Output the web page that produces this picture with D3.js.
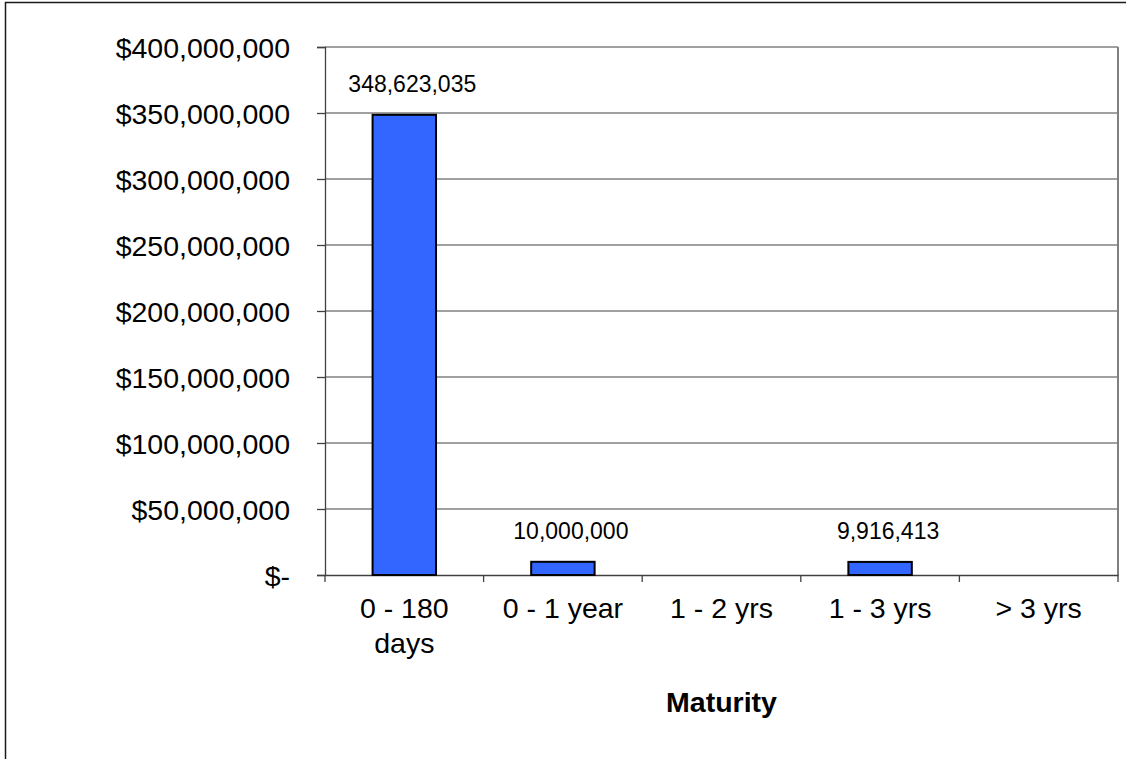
<!DOCTYPE html>
<html>
<head>
<meta charset="utf-8">
<script src="https://cdnjs.cloudflare.com/ajax/libs/d3/7.8.5/d3.min.js"></script>
<style>
  body { margin: 0; background: #fff; }
  svg { display: block; font-family: "Liberation Sans", Arial, sans-serif; }
</style>
</head>
<body>
<div id="chart"></div>
<script>
// data
var categories = ["0 - 180 days", "0 - 1 year", "1 - 2 yrs", "1 - 3 yrs", "> 3 yrs"];
var values = [348623035, 10000000, 0, 9916413, 0];
var yTicks = [0, 50000000, 100000000, 150000000, 200000000, 250000000, 300000000, 350000000, 400000000];
var xTitle = "Maturity";

var w = 1126, h = 759;
var padL = 325, padR = 1118, padT = 47, padB = 575;

var rows = categories.map(function(c, i){ return { cat: c, val: values[i] }; });

var svg = d3.select("#chart").append("svg")
    .attr("width", w)
    .attr("height", h);

// outer chart frame (runs off the right and bottom edge)
svg.append("rect")
    .attr("x", 5.5).attr("y", 2.5)
    .attr("width", 1300).attr("height", 1000)
    .attr("fill", "none")
    .attr("stroke", "#1a1a1a")
    .attr("stroke-width", 1.5);

var x = d3.scaleBand().domain(categories).range([padL, padR]).paddingInner(0).paddingOuter(0);
var y = d3.scaleLinear().domain([0, 400000000]).range([padB, padT]);

// gridlines
svg.append("g").selectAll("line").data(yTicks.slice(1))
    .enter().append("line")
    .attr("x1", padL).attr("x2", padR)
    .attr("y1", function(d){ return y(d); })
    .attr("y2", function(d){ return y(d); })
    .attr("stroke", "#808080")
    .attr("stroke-width", 1.3);

// right border of the plot area
svg.append("line")
    .attr("x1", padR).attr("x2", padR)
    .attr("y1", padT).attr("y2", padB)
    .attr("stroke", "#808080")
    .attr("stroke-width", 2);

var money = function(d){
    return d === 0 ? "$-" : "$" + d3.format(",")(d);
};

// y axis
var yAxis = svg.append("g")
    .attr("transform", "translate(" + padL + ",0)")
    .call(d3.axisLeft(y).tickValues(yTicks).tickFormat(money).tickSize(8).tickPadding(27));
yAxis.select(".domain").attr("stroke", "#404040").attr("stroke-width", 1.3);
yAxis.selectAll(".tick line").attr("stroke", "#404040").attr("stroke-width", 1.3);
yAxis.selectAll(".tick text")
    .attr("fill", "#000")
    .style("font-size", "28.5px")
    .style("font-family", "'Liberation Sans', Arial, sans-serif")
    .attr("dy", "0.36em");

// x axis
var xAxis = svg.append("g")
    .attr("transform", "translate(0," + padB + ")")
    .call(d3.axisBottom(x).tickSize(0).tickFormat(""));
xAxis.select(".domain").attr("stroke", "#404040").attr("stroke-width", 1.3);

// category boundary ticks
var bounds = categories.map(function(c){ return x(c); }).concat([padR]);
svg.append("g").selectAll("line").data(bounds)
    .enter().append("line")
    .attr("x1", function(d){ return d; })
    .attr("x2", function(d){ return d; })
    .attr("y1", padB).attr("y2", padB + 7)
    .attr("stroke", "#404040")
    .attr("stroke-width", 1.3);

// category labels, wrapped when wider than the band
var measure = svg.append("text").style("font-size", "28.5px").attr("visibility", "hidden");
function wrapLines(str, maxW){
    var words = str.split(" "), lines = [], cur = "";
    words.forEach(function(wd){
        var test = cur ? cur + " " + wd : wd;
        measure.text(test);
        if (measure.node().getComputedTextLength() > maxW && cur) {
            lines.push(cur);
            cur = wd;
        } else {
            cur = test;
        }
    });
    lines.push(cur);
    return lines;
}

categories.forEach(function(c){
    var lines = wrapLines(c, x.bandwidth() - 4);
    var t = svg.append("text")
        .attr("x", x(c) + x.bandwidth() / 2)
        .attr("y", 618)
        .attr("text-anchor", "middle")
        .style("font-size", "28.5px")
        .attr("fill", "#000");
    lines.forEach(function(l, i){
        t.append("tspan")
            .attr("x", x(c) + x.bandwidth() / 2)
            .attr("dy", i === 0 ? 0 : 35)
            .text(l);
    });
});
measure.remove();

// bars (zero values have no bar)
var shown = rows.filter(function(d){ return d.val > 0; });
var barW = x.bandwidth() * 0.4;
svg.append("g").selectAll("rect").data(shown)
    .enter().append("rect")
    .attr("x", function(d){ return x(d.cat) + (x.bandwidth() - barW) / 2; })
    .attr("y", function(d){ return y(d.val); })
    .attr("width", barW)
    .attr("height", function(d){ return y(0) - y(d.val); })
    .attr("fill", "#3366FF")
    .attr("stroke", "#000")
    .attr("stroke-width", 2);

// value labels
svg.append("g").selectAll("text").data(shown)
    .enter().append("text")
    .attr("x", function(d){ return x(d.cat) + x.bandwidth() / 2 + 8; })
    .attr("y", function(d){ return y(d.val) - 23; })
    .attr("text-anchor", "middle")
    .style("font-size", "23px")
    .attr("fill", "#000")
    .text(function(d){ return d3.format(",")(d.val); });

// axis title
svg.append("text")
    .attr("x", (padL + padR) / 2)
    .attr("y", 712)
    .attr("text-anchor", "middle")
    .style("font-size", "28.5px")
    .style("font-weight", "bold")
    .text(xTitle);
</script>
</body>
</html>
